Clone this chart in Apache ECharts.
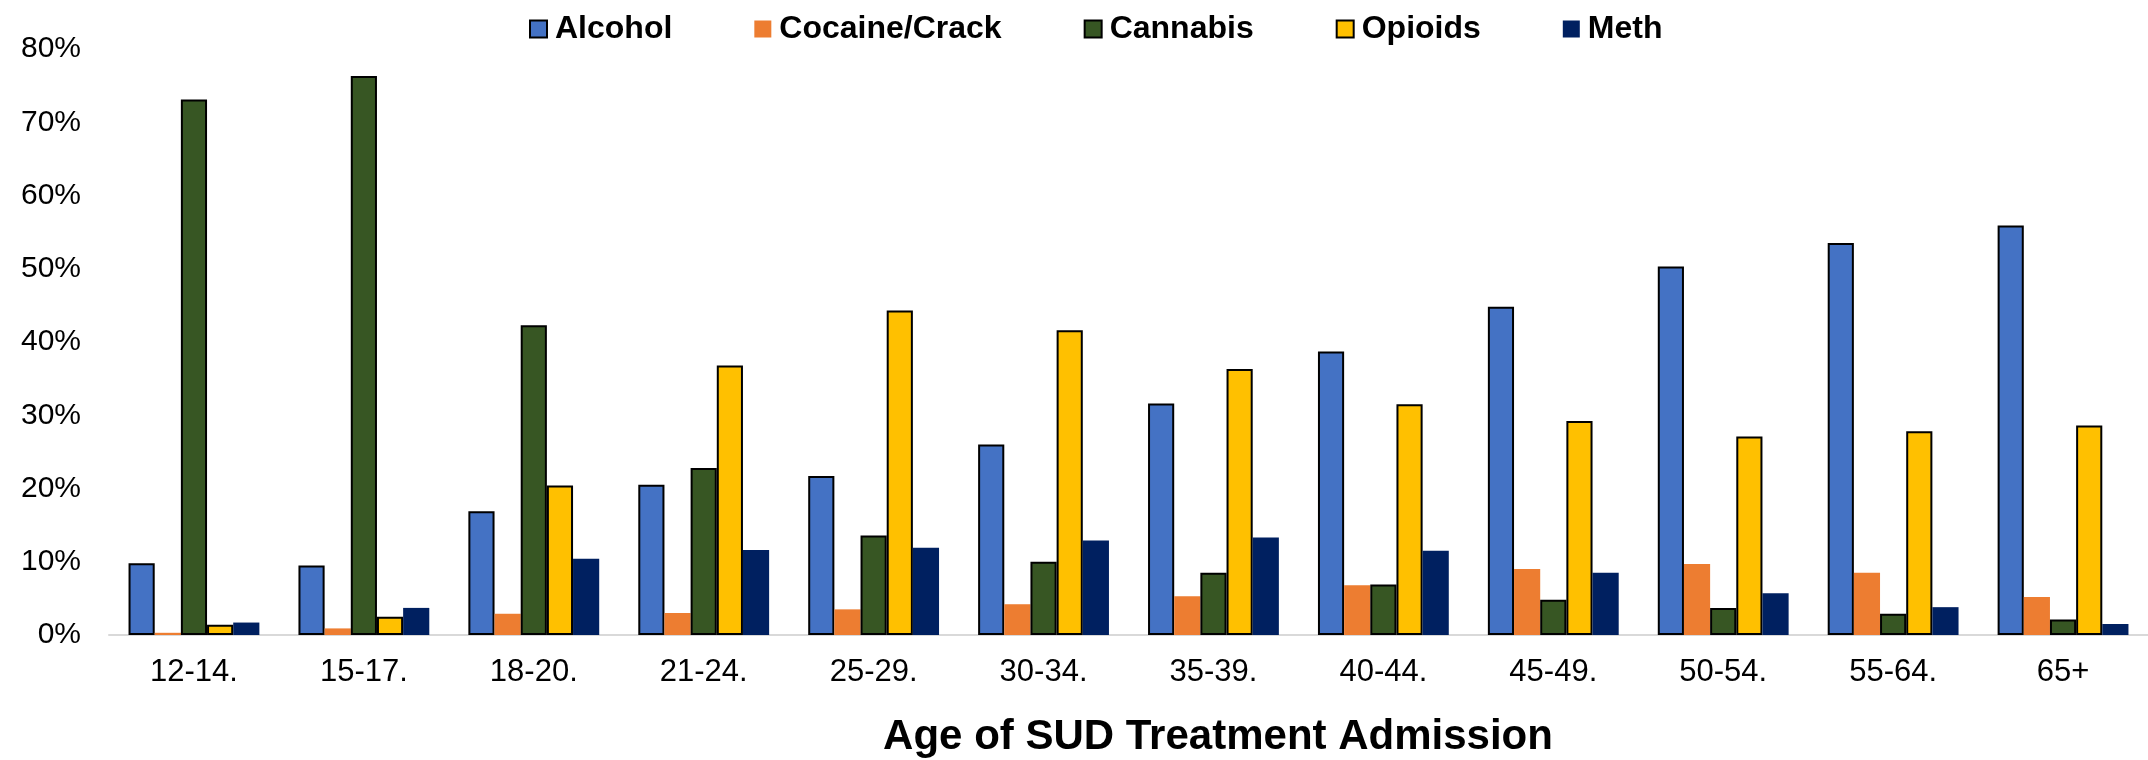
<!DOCTYPE html>
<html>
<head>
<meta charset="utf-8">
<style>
  html, body { margin: 0; padding: 0; background: #ffffff; }
  #chart { width: 2148px; height: 760px; }
</style>
<script src="https://cdn.jsdelivr.net/npm/echarts@6/dist/echarts.min.js"></script>
</head>
<body>
<div id="chart"></div>
<script>
// Age groups at admission
const ageGroups = ['12-14.', '15-17.', '18-20.', '21-24.', '25-29.', '30-34.', '35-39.', '40-44.', '45-49.', '50-54.', '55-64.', '65+'];

// Share of admissions (%) by primary substance
const alcohol  = [9.8, 9.5, 16.9, 20.5, 21.7, 26.0, 31.6, 38.7, 44.8, 50.3, 53.5, 55.9];
const cocaine  = [0.3, 0.9, 2.9, 3.0, 3.5, 4.2, 5.3, 6.8, 9.0, 9.7, 8.5, 5.2];
const cannabis = [73.1, 76.3, 42.3, 22.8, 13.6, 10.0, 8.5, 6.9, 4.8, 3.7, 2.9, 2.1];
const opioids  = [1.4, 2.5, 20.4, 36.8, 44.3, 41.6, 36.3, 31.5, 29.2, 27.1, 27.8, 28.6];
const meth     = [1.7, 3.7, 10.4, 11.6, 11.9, 12.9, 13.3, 11.5, 8.5, 5.7, 3.8, 1.5];

const seriesNames = ['Alcohol', 'Cocaine/Crack', 'Cannabis', 'Opioids', 'Meth'];
const seriesData = [alcohol, cocaine, cannabis, opioids, meth];
const seriesColors = ['#4472C4', '#ED7D31', '#375623', '#FFC000', '#002060'];
const outlined = [true, false, true, true, false];

const FONT = "'Liberation Sans', Arial, sans-serif";

const chart = echarts.init(document.getElementById('chart'), null, { renderer: 'canvas' });

chart.setOption({
  animation: false,
  backgroundColor: '#ffffff',
  textStyle: { fontFamily: FONT },
  legend: {
    left: 524,
    top: 8,
    icon: 'rect',
    itemWidth: 17,
    itemHeight: 17,
    itemGap: 82,
    textStyle: { fontFamily: FONT, fontSize: 32, fontWeight: 'bold', color: '#000000', padding: [0, 0, 0, 3] },
    data: seriesNames
  },
  grid: { left: 109, right: 0, top: 49, bottom: 125, containLabel: false },
  xAxis: {
    type: 'category',
    data: ageGroups,
    axisLine: { show: true, lineStyle: { color: '#D9D9D9', width: 2 } },
    axisTick: { show: false },
    axisLabel: { fontFamily: FONT, fontSize: 31, color: '#000000', margin: 22 },
    splitLine: { show: false }
  },
  yAxis: {
    type: 'value',
    min: 0,
    max: 80,
    interval: 10,
    axisLine: { show: false },
    axisTick: { show: false },
    splitLine: { show: false },
    axisLabel: { fontFamily: FONT, fontSize: 30, color: '#000000', margin: 28, formatter: '{value}%' }
  },
  graphic: [{
    type: 'text',
    style: {
      x: 1218,
      y: 737,
      text: 'Age of SUD Treatment Admission',
      fontFamily: FONT,
      fontSize: 42,
      fontWeight: 'bold',
      fill: '#000000',
      textAlign: 'center',
      textVerticalAlign: 'middle'
    }
  }],
  series: seriesNames.map((name, i) => ({
    name: name,
    type: 'bar',
    data: seriesData[i],
    barGap: '0%',
    barCategoryGap: '23%',
    itemStyle: {
      color: seriesColors[i],
      borderColor: outlined[i] ? '#000000' : seriesColors[i],
      borderWidth: outlined[i] ? 2 : 0
    }
  }))
});
</script>
</body>
</html>
